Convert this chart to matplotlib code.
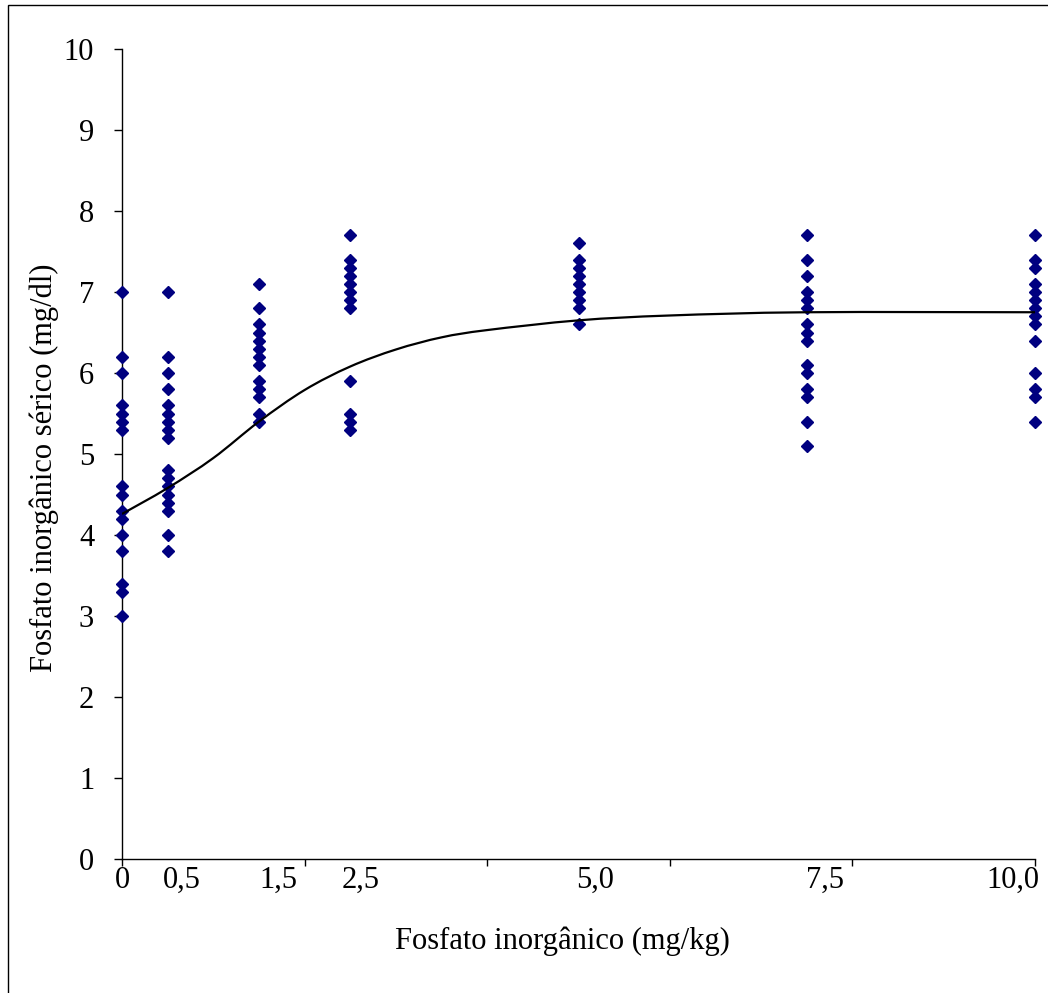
import numpy as np
from matplotlib import pyplot as plt
from matplotlib.path import Path
from matplotlib.patches import PathPatch, Rectangle

# Fosfato inorganico
doses = [0.0, 0.5, 1.5, 2.5, 5.0, 7.5, 10.0]

val_00 = [7.0, 6.2, 6.0, 5.6, 5.5, 5.4, 5.3, 4.6, 4.5, 4.3, 4.2, 4.0, 3.8, 3.4, 3.3, 3.0]
val_05 = [7.0, 6.2, 6.0, 5.8, 5.6, 5.5, 5.4, 5.3, 5.2, 4.8, 4.7, 4.6, 4.5, 4.4, 4.3, 4.0, 3.8]
val_15 = [7.1, 6.8, 6.6, 6.5, 6.4, 6.3, 6.2, 6.1, 5.9, 5.8, 5.7, 5.5, 5.4]
val_25 = [7.7, 7.4, 7.3, 7.2, 7.1, 7.0, 6.9, 6.8, 5.9, 5.5, 5.4, 5.3]
val_50 = [7.6, 7.4, 7.3, 7.2, 7.1, 7.0, 6.9, 6.8, 6.6]
val_75 = [7.7, 7.4, 7.2, 7.0, 6.9, 6.8, 6.6, 6.5, 6.4, 6.1, 6.0, 5.8, 5.7, 5.4, 5.1]
val_100 = [7.7, 7.4, 7.3, 7.1, 7.0, 6.9, 6.8, 6.7, 6.6, 6.4, 6.0, 5.8, 5.7, 5.4]

# curva ajustada
curva_x = [0.0, 0.5, 1.0, 1.5, 2.0, 2.5, 3.0, 3.5, 4.0, 5.0, 6.0, 7.5, 10.0]
curva_y = [4.26, 4.58, 4.95, 5.40, 5.79, 6.08, 6.29, 6.44, 6.53, 6.65, 6.71, 6.75, 6.75]

x_labels = ["0", "0,5", "1,5", "2,5", "5,0", "7,5", "10,0"]
x_label_pos = [0.0, 0.66, 1.71, 2.61, 5.18, 7.70, 9.76]

plt.rcParams['font.family'] = ['Liberation Serif', 'DejaVu Serif']

fig = plt.figure(figsize=(10.48, 9.93), dpi=100)
ax = fig.add_axes([122 / 1048, 1 - 859 / 993, (1035 - 122) / 1048, (859 - 49) / 993])

# moldura da figura
fig.patches.append(Rectangle((8 / 1048, -0.05), 1.2, 1 - 5 / 993 + 0.05, transform=fig.transFigure,
                             fill=False, edgecolor='black', linewidth=1.0))

for d, vals in zip(doses, [val_00, val_05, val_15, val_25, val_50, val_75, val_100]):
    ax.plot([d] * len(vals), vals, linestyle='none', marker='D', markersize=6.5,
            markerfacecolor='#000080', markeredgecolor='#000080', clip_on=False, zorder=3)

# linha suavizada (bezier estilo excel)
pts = np.column_stack([curva_x, curva_y])
verts = [tuple(pts[0])]
codes = [Path.MOVETO]
n = len(pts)
for i in range(n - 1):
    p0 = pts[max(i - 1, 0)]
    p1 = pts[i]
    p2 = pts[i + 1]
    p3 = pts[min(i + 2, n - 1)]
    c1 = p1 + (p2 - p0) / 6.0
    c2 = p2 - (p3 - p1) / 6.0
    verts += [tuple(c1), tuple(c2), tuple(p2)]
    codes += [Path.CURVE4, Path.CURVE4, Path.CURVE4]
ax.add_patch(PathPatch(Path(verts, codes), facecolor='none', edgecolor='black', linewidth=1.6, zorder=4))

ax.set_xlim(0, 10)
ax.set_ylim(0, 10)
ax.spines['top'].set_visible(False)
ax.spines['right'].set_visible(False)
ax.spines['left'].set_linewidth(1.0)
ax.spines['bottom'].set_linewidth(1.0)

ax.set_yticks(range(0, 11))
ax.set_yticklabels([str(v) for v in range(0, 11)])
ax.tick_params(axis='y', direction='out', length=6, width=1, pad=14, labelsize=22)

ax.xaxis.remove_overlapping_locs = False
ax.set_xticks([0, 2, 4, 6, 8, 10])
ax.set_xticklabels([])
ax.set_xticks(x_label_pos, minor=True)
ax.set_xticklabels(x_labels, minor=True)
ax.tick_params(axis='x', which='major', direction='out', length=5, width=1)
ax.tick_params(axis='x', which='minor', length=0, pad=5, labelsize=22)

ax.set_xlabel("Fosfato inorgânico (mg/kg)", fontsize=22)
ax.set_ylabel("Fosfato inorgânico sérico (mg/dl)", fontsize=22)
ax.xaxis.set_label_coords(0.482, -0.083)
ax.yaxis.set_label_coords(-0.069, 0.483)

fig.savefig("out.png", dpi=100)
